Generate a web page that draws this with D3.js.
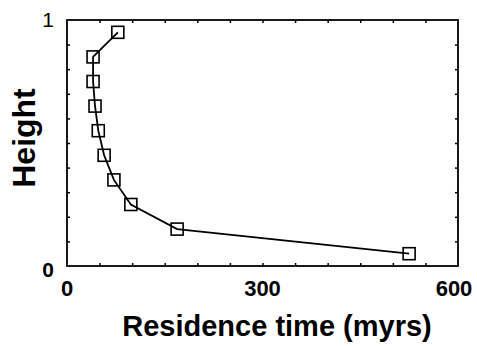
<!DOCTYPE html>
<html>
<head>
<meta charset="utf-8">
<script src="https://cdn.jsdelivr.net/npm/d3@7"></script>
<style>
  body { margin: 0; background: #fff; }
  text { font-family: "Liberation Sans", Arial, Helvetica, sans-serif; fill: #000; }
</style>
</head>
<body>
<div id="chart"></div>
<script>
// residence time (myrs) vs height
const residence = [525, 169, 98, 72, 57, 48, 43, 40, 40, 78];
const heights = [0.05, 0.15, 0.25, 0.35, 0.45, 0.55, 0.65, 0.75, 0.85, 0.95];
const xTickLabels = [0, 300, 600];
const yTickLabels = [0, 1];

const width = 477, height = 346;
const margin = { left: 67, right: 19, top: 20, bottom: 80 };

const svg = d3.select('#chart').append('svg')
  .attr('width', width)
  .attr('height', height);

const x = d3.scaleLinear().domain([0, 600]).range([margin.left, width - margin.right]);
const y = d3.scaleLinear().domain([0, 1]).range([height - margin.bottom, margin.top]);

// inward minor ticks on all four sides
const tickLen = 3;
const xMinor = d3.range(50, 600, 50);
const yMinor = d3.range(0.1, 1, 0.1);

svg.append('g')
  .attr('transform', `translate(0,${y(0)})`)
  .call(d3.axisBottom(x).tickValues(xMinor).tickSize(-tickLen).tickFormat(''))
  .call(g => g.select('.domain').remove());
svg.append('g')
  .attr('transform', `translate(0,${y(1)})`)
  .call(d3.axisTop(x).tickValues(xMinor).tickSize(-tickLen).tickFormat(''))
  .call(g => g.select('.domain').remove());
svg.append('g')
  .attr('transform', `translate(${x(0)},0)`)
  .call(d3.axisLeft(y).tickValues(yMinor).tickSize(-tickLen).tickFormat(''))
  .call(g => g.select('.domain').remove());
svg.append('g')
  .attr('transform', `translate(${x(600)},0)`)
  .call(d3.axisRight(y).tickValues(yMinor).tickSize(-tickLen).tickFormat(''))
  .call(g => g.select('.domain').remove());

svg.selectAll('.tick line').attr('stroke', '#000').attr('stroke-width', 1.5);

// frame
svg.append('rect')
  .attr('x', x(0)).attr('y', y(1))
  .attr('width', x(600) - x(0)).attr('height', y(0) - y(1))
  .attr('fill', 'none').attr('stroke', '#000').attr('stroke-width', 1.8);

// tick labels
svg.selectAll('.xlab').data(xTickLabels).enter().append('text')
  .attr('class', 'xlab')
  .attr('x', d => x(d) - (d === 600 ? 4 : 0)).attr('y', y(0) + 30)
  .attr('text-anchor', 'middle')
  .attr('font-size', 22).attr('font-weight', 'bold')
  .text(d => d);

svg.selectAll('.ylab').data(yTickLabels).enter().append('text')
  .attr('class', 'ylab')
  .attr('x', x(0) - 19).attr('y', d => d === 1 ? y(d) + 7 : y(d) + 11)
  .attr('text-anchor', 'middle')
  .attr('font-size', 21)
  .attr('font-weight', d => d === 1 ? 'normal' : 'bold')
  .text(d => d);

// axis titles
svg.append('text')
  .attr('x', 277).attr('y', 336)
  .attr('text-anchor', 'middle')
  .attr('font-size', 29).attr('font-weight', 'bold')
  .text('Residence time (myrs)');

svg.append('text')
  .attr('transform', `translate(35,138) rotate(-90)`)
  .attr('text-anchor', 'middle')
  .attr('font-size', 32).attr('font-weight', 'bold')
  .text('Height');

// data line (straight segments between points)
const pts = residence.map((r, i) => [r, heights[i]]);
const line = d3.line()
  .x(d => x(d[0])).y(d => y(d[1]));

svg.append('path')
  .datum(pts)
  .attr('d', line)
  .attr('fill', 'none')
  .attr('stroke', '#000')
  .attr('stroke-width', 1.8);

const sq = 12;
svg.selectAll('.pt').data(pts).enter().append('rect')
  .attr('class', 'pt')
  .attr('x', d => x(d[0]) - sq / 2)
  .attr('y', d => y(d[1]) - sq / 2)
  .attr('width', sq).attr('height', sq)
  .attr('fill', 'none')
  .attr('stroke', '#000')
  .attr('stroke-width', 1.6);
</script>
</body>
</html>
